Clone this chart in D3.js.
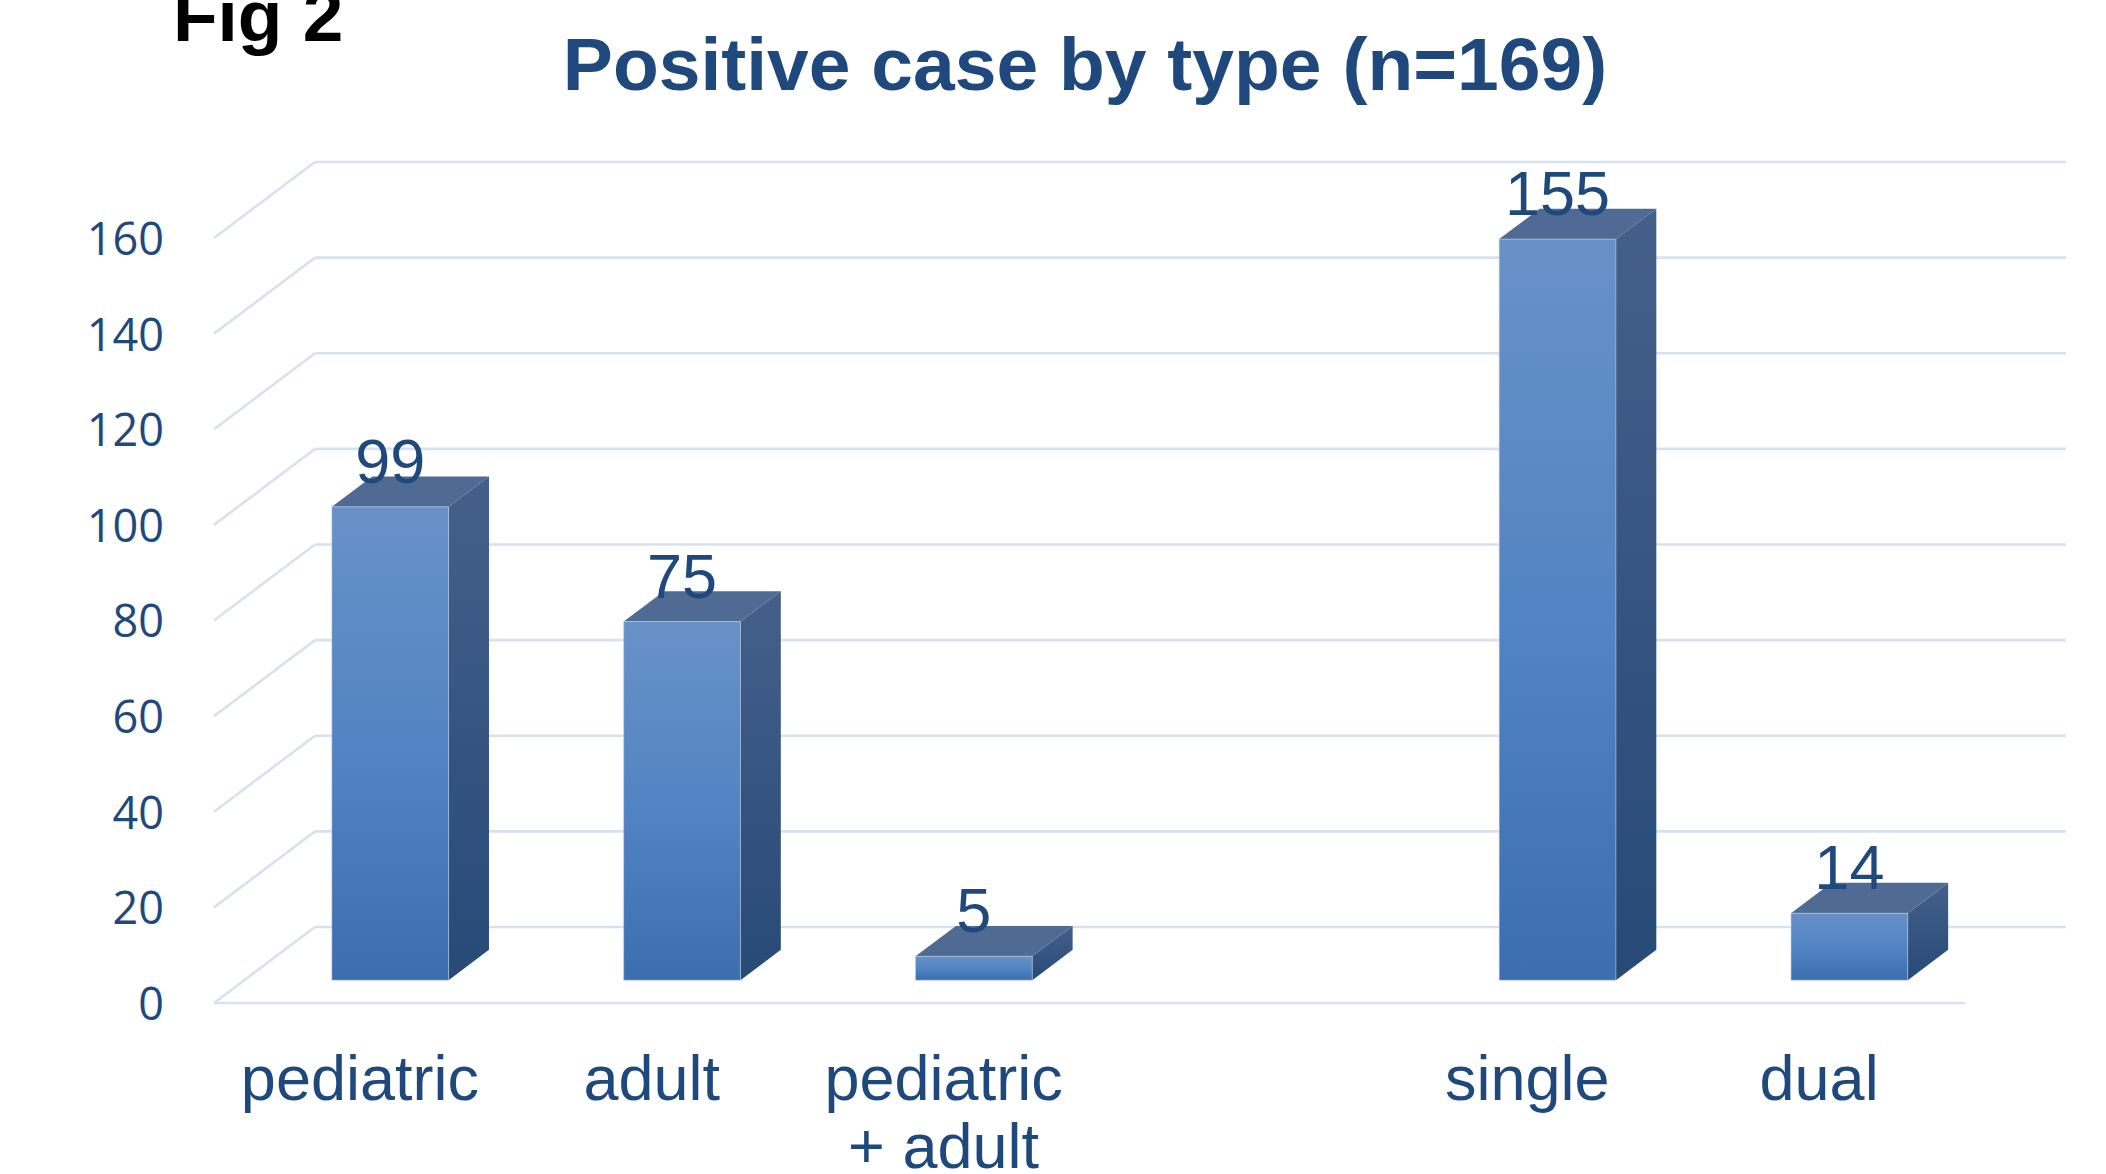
<!DOCTYPE html>
<html>
<head>
<meta charset="utf-8">
<script src="https://cdn.jsdelivr.net/npm/d3@7"></script>
<style>
  html, body { margin: 0; padding: 0; background: #ffffff; }
  svg { display: block; }
</style>
</head>
<body>
<svg id="chart" width="2106" height="1174"></svg>
<script>
// ---- data ----
const figLabel = "Fig 2";
const chartTitle = "Positive case by type (n=169)";
const categories = [["pediatric"], ["adult"], ["pediatric", "+ adult"], [], ["single"], ["dual"]];
const values = [99, 75, 5, null, 155, 14];
const yTicks = [0, 20, 40, 60, 80, 100, 120, 140, 160];
const yDomain = [0, 160];

// ---- layout ----
const W = 2106, H = 1174;
const frontLeft = 214, frontRight = 1965;
const frontBottom = 1003, frontTop = 238;
const depth = { dx: 101, dy: -76 };
const barT0 = 0.3, barT1 = 0.7;
const textColor = "#1F497D";
const gridColor = "#D7E2F1";

const svg = d3.select("#chart");

const x = d3.scaleBand()
  .domain(d3.range(categories.length))
  .range([frontLeft, frontRight])
  .paddingInner(0.6)
  .paddingOuter(0.3);

const y = d3.scaleLinear().domain(yDomain).range([frontBottom, frontTop]);

// project (floor x, value, depth t) -> screen
const px = (xv, t) => xv + depth.dx * t;
const py = (v, t) => y(v) + depth.dy * t;

// ---- gradients ----
const defs = svg.append("defs");
const gFront = defs.append("linearGradient").attr("id", "gFront")
  .attr("x1", 0).attr("y1", 0).attr("x2", 0).attr("y2", 1);
gFront.append("stop").attr("offset", "0%").attr("stop-color", "#6891C7");
gFront.append("stop").attr("offset", "50%").attr("stop-color", "#5384C3");
gFront.append("stop").attr("offset", "100%").attr("stop-color", "#3C6EAF");
const gSide = defs.append("linearGradient").attr("id", "gSide")
  .attr("x1", 0).attr("y1", 0).attr("x2", 0).attr("y2", 1);
gSide.append("stop").attr("offset", "0%").attr("stop-color", "#44608A");
gSide.append("stop").attr("offset", "100%").attr("stop-color", "#274A77");

// ---- walls / gridlines ----
const grid = svg.append("g").attr("class", "grid")
  .attr("fill", "none").attr("stroke", gridColor).attr("stroke-width", 2.6);

// back wall horizontal lines
grid.selectAll("line.back").data(yTicks).join("line").attr("class", "back")
  .attr("x1", px(frontLeft, 1)).attr("x2", px(frontRight, 1))
  .attr("y1", d => py(d, 1)).attr("y2", d => py(d, 1));
// side wall diagonals
grid.selectAll("line.side").data(yTicks).join("line").attr("class", "side")
  .attr("x1", px(frontLeft, 0)).attr("x2", px(frontLeft, 1))
  .attr("y1", d => py(d, 0)).attr("y2", d => py(d, 1));
// floor front edge
grid.append("line")
  .attr("x1", px(frontLeft, 0)).attr("x2", px(frontRight, 0))
  .attr("y1", py(0, 0)).attr("y2", py(0, 0));

// ---- y axis labels ----
const yAxis = d3.axisLeft(y).tickValues(yTicks).tickSize(0).tickPadding(0);
const yAxisG = svg.append("g").attr("transform", "translate(164,2)").call(yAxis);
yAxisG.select(".domain").remove();
yAxisG.selectAll("text")
  .attr("font-family", "'Open Sans', 'DejaVu Sans', sans-serif")
  .attr("font-size", 45)
  .attr("fill", textColor);

// ---- bars ----
const barData = values.map((v, i) => ({ i, v })).filter(d => d.v != null);
const bars = svg.append("g").selectAll("g.bar").data(barData).join("g").attr("class", "bar");

bars.each(function(d) {
  const g = d3.select(this);
  const x0 = x(d.i), x1 = x(d.i) + x.bandwidth();
  // side face
  g.append("path")
    .attr("d", `M${px(x1, barT0)},${py(0, barT0)} L${px(x1, barT1)},${py(0, barT1)} L${px(x1, barT1)},${py(d.v, barT1)} L${px(x1, barT0)},${py(d.v, barT0)} Z`)
    .attr("fill", "url(#gSide)");
  // top face
  g.append("path")
    .attr("d", `M${px(x0, barT0)},${py(d.v, barT0)} L${px(x1, barT0)},${py(d.v, barT0)} L${px(x1, barT1)},${py(d.v, barT1)} L${px(x0, barT1)},${py(d.v, barT1)} Z`)
    .attr("fill", "#4F6B93");
  // front face
  g.append("rect")
    .attr("x", px(x0, barT0))
    .attr("y", py(d.v, barT0))
    .attr("width", x.bandwidth())
    .attr("height", py(0, barT0) - py(d.v, barT0))
    .attr("fill", "url(#gFront)")
    .attr("stroke", "rgba(190,208,232,0.55)")
    .attr("stroke-width", 1);
});

// ---- value labels ----
svg.append("g").selectAll("text").data(barData).join("text")
  .attr("x", d => px(x(d.i) + x.bandwidth() / 2, barT0))
  .attr("y", d => py(d.v, barT0) - 24)
  .attr("text-anchor", "middle")
  .attr("font-family", "'Liberation Sans', Arial, sans-serif")
  .attr("font-size", 63)
  .attr("fill", textColor)
  .text(d => d.v);

// ---- category labels ----
const catG = svg.append("g").selectAll("text").data(categories.map((c, i) => ({ c, i }))).join("text")
  .attr("text-anchor", "middle")
  .attr("font-family", "'Liberation Sans', Arial, sans-serif")
  .attr("font-size", 63)
  .attr("fill", textColor);
catG.each(function(d) {
  const t = d3.select(this);
  const cx = x(d.i) + x.bandwidth() / 2;
  d.c.forEach((line, k) => {
    t.append("tspan").attr("x", cx).attr("y", 1100 + k * 68).text(line);
  });
});

// ---- titles ----
svg.append("text")
  .attr("x", 173).attr("y", 41)
  .attr("font-family", "'Liberation Sans', Arial, sans-serif")
  .attr("font-weight", "bold")
  .attr("font-size", 73)
  .attr("fill", "#000000")
  .text(figLabel);

svg.append("text")
  .attr("x", 1085).attr("y", 90)
  .attr("text-anchor", "middle")
  .attr("font-family", "'Liberation Sans', Arial, sans-serif")
  .attr("font-weight", "bold")
  .attr("font-size", 75)
  .attr("fill", textColor)
  .text(chartTitle);
</script>
</body>
</html>
